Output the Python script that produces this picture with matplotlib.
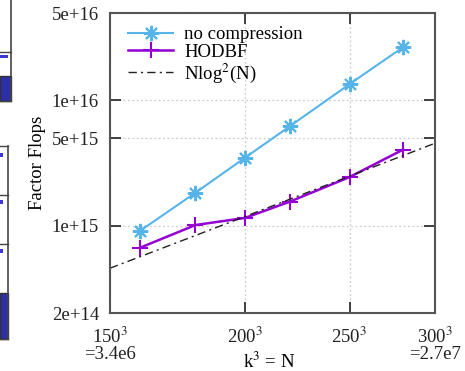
import matplotlib
matplotlib.use("Agg")
import matplotlib.pyplot as plt
from matplotlib.patches import Rectangle
from matplotlib.lines import Line2D
from matplotlib.ticker import FixedLocator, NullLocator, FixedFormatter

# ---- data ----
k_values = [160, 180, 200, 220, 250, 280]
no_compression = [9.1e14, 1.83e15, 3.48e15, 6.2e15, 1.35e16, 2.65e16]
hodbf = [6.66e14, 1.01e15, 1.15e15, 1.55e15, 2.44e15, 4.03e15]
ref_k = [150, 200, 250, 300]
ref_nlog2n = [4.56e14, 1.18e15, 2.48e15, 4.55e15]

x_ticks = [150, 200, 250, 300]
x_tick_labels = ["150$^3$\n=3.4e6", "200$^3$", "250$^3$", "300$^3$\n=2.7e7"]
y_ticks = [2e14, 1e15, 5e15, 1e16, 5e16]
y_tick_labels = ["2e+14", "1e+15", "5e+15", "1e+16", "5e+16"]

labels = ["no compression", "HODBF", "Nlog$^2$(N)"]

plt.rcParams["font.family"] = ["Liberation Serif", "DejaVu Serif"]
plt.rcParams["mathtext.fontset"] = "stix"

W, H = 465, 371
fig = plt.figure(figsize=(W / 100, H / 100), dpi=100)

# partial neighbouring figure at the left edge
def px_rect(x0, y0, x1, y1, **kw):
    fig.patches.append(Rectangle((x0 / W, 1 - y1 / H), (x1 - x0) / W, (y1 - y0) / H,
                                 transform=fig.transFigure, figure=fig, **kw))

def px_line(x0, y0, x1, y1, **kw):
    fig.lines.append(Line2D([x0 / W, x1 / W], [1 - y0 / H, 1 - y1 / H],
                            transform=fig.transFigure, figure=fig, **kw))

blue = "#2e2ea8"
px_rect(0, 76, 11, 101, facecolor=blue, edgecolor="#333333", lw=1)
px_line(11, 0, 11, 101, color="#444444", lw=1.2)
px_line(0, 52, 11, 52, color="#444444", lw=1.0)
px_line(0, 101, 11, 101, color="#444444", lw=1.0)
px_rect(0, 55, 8, 58, facecolor="#3a3ad0", edgecolor="none")

px_rect(0, 293, 8, 339, facecolor=blue, edgecolor="#333333", lw=1)
px_line(8, 146, 8, 339, color="#444444", lw=1.2)
px_line(0, 146, 8, 146, color="#444444", lw=1.0)
px_line(0, 195, 8, 195, color="#444444", lw=1.0)
px_line(0, 244, 8, 244, color="#444444", lw=1.0)
px_line(0, 339, 8, 339, color="#444444", lw=1.0)
for yy in (155, 202, 251):
    px_rect(0, yy - 2, 3, yy + 2, facecolor="#3a3ad0", edgecolor="none")

ax = fig.add_axes([110 / W, 1 - 313 / H, (435 - 110) / W, (313 - 13) / H])
ax.set_xscale("log")
ax.set_yscale("log")
ax.set_xlim(150, 300)
ax.set_ylim(2e14, 5e16)

ax.plot(k_values, no_compression, color="#56B4E9", lw=1.5,
        marker=(8, 2, 0), markersize=11, markeredgewidth=1.5, label=labels[0])
ax.plot(k_values, hodbf, color="#9400D3", lw=1.8,
        marker="+", markersize=12, markeredgewidth=1.5, label=labels[1])
ax.plot(ref_k, ref_nlog2n, color="#222222", lw=1.0,
        dashes=(6, 3, 1.5, 3), label=labels[2])

ax.xaxis.set_major_locator(FixedLocator(x_ticks))
ax.xaxis.set_major_formatter(FixedFormatter(x_tick_labels))
ax.xaxis.set_minor_locator(NullLocator())
ax.yaxis.set_major_locator(FixedLocator(y_ticks))
ax.yaxis.set_major_formatter(FixedFormatter(y_tick_labels))
ax.yaxis.set_minor_locator(NullLocator())

ax.tick_params(direction="in", length=8, width=1.2, top=True, right=True,
               labelsize=13.5, colors="#222222", pad=8)
ax.tick_params(axis="x", pad=10)
for lab in ax.get_xticklabels():
    lab.set_linespacing(0.9)
for s in ax.spines.values():
    s.set_color("#555555")
    s.set_linewidth(1.5)

ax.grid(True, which="major", color="#cccccc", linestyle=(0, (1.5, 2)), lw=0.9)

ax.set_ylabel("Factor Flops", fontsize=13.5, labelpad=4)
ax.set_xlabel("k$^3$ = N", fontsize=13.5)
ax.xaxis.label.set_va("baseline")
ax.xaxis.set_label_coords(0.49, (313 - 368) / 300)

leg = ax.legend(loc="upper left", frameon=False, fontsize=13.5,
                handlelength=2.4, labelspacing=0.02, handletextpad=0.6,
                borderaxespad=0.3, bbox_to_anchor=(0.015, 1.0))

fig.savefig("out.png", dpi=100)
